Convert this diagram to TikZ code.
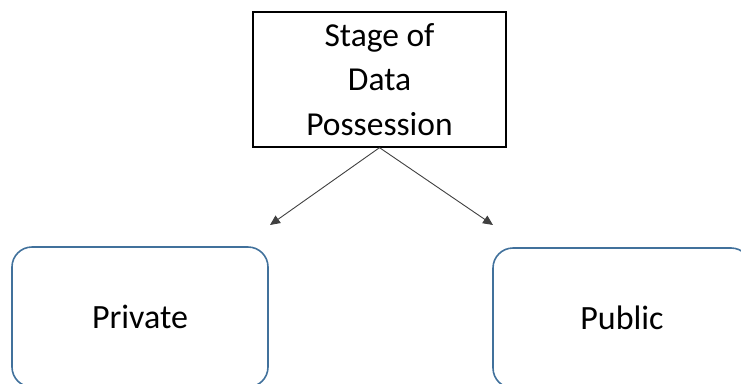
\documentclass[tikz,border=0pt]{standalone}
\usepackage{fontspec}
\setmainfont{Carlito}
\usetikzlibrary{arrows.meta}

\definecolor{boxblue}{HTML}{41719C}
\definecolor{arrowgrey}{HTML}{404040}

\tikzset{
  stagebox/.style={draw=black, line width=1.3pt, minimum width=253pt, minimum height=135pt,
    align=center, inner sep=0pt, font=\fontsize{33.5}{44.5}\selectfont},
  kindbox/.style={draw=boxblue, line width=1.6pt, rounded corners=20pt,
    minimum width=256pt, minimum height=140pt, font=\fontsize{34}{40}\selectfont},
  branch/.style={draw=arrowgrey, line width=0.9pt, -{Triangle[length=10pt,width=9pt]}}
}

\begin{document}
\begin{tikzpicture}[x=1pt, y=-1pt]
  \useasboundingbox (0,0) rectangle (741,383); % page = reference size
  \clip (0,0) rectangle (741,383);

  \node[stagebox] (stage) at (379.5,79.5) {Stage of\\Data\\Possession};

  \node[kindbox] (private) at (140,317) {Private};
  \node[kindbox, minimum width=258pt] (public) at (622,318) {Public};

  \coordinate (privtip) at (270,225);
  \coordinate (pubtip) at (493,225);

  \draw[branch] (stage.south) -- (privtip);
  \draw[branch] (stage.south) -- (pubtip);
\end{tikzpicture}
\end{document}
